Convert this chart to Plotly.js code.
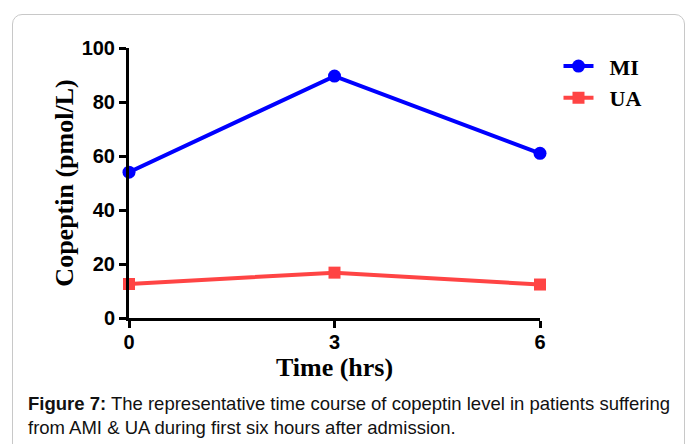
<!DOCTYPE html>
<html>
<head>
<meta charset="utf-8">
<script src="https://cdn.plot.ly/plotly-3.0.1.min.js"></script>
<style>
html,body{margin:0;padding:0;background:#fff;}
#frame{position:absolute;left:12px;top:14px;width:673px;height:460px;border:1.5px solid #c8c8c8;border-radius:10px;box-sizing:border-box;}
#chart{position:absolute;left:0;top:0;width:689px;height:444px;}
</style>
</head>
<body>
<div id="frame"></div>
<div id="chart"></div>
<script>
const timeHrs = [0, 3, 6];
const miValues = [54, 89.6, 61];
const uaValues = [12.6, 16.8, 12.4];
const yTicks = [0, 20, 40, 60, 80, 100];
const xTicks = [0, 3, 6];

const traces = [
  {x: timeHrs, y: miValues, name: '\u00a0\u00a0<b>MI</b>', type: 'scatter', mode: 'lines+markers',
   line: {color: '#0000ff', width: 4}, marker: {symbol: 'circle', size: 13, color: '#0000ff'}, cliponaxis: false},
  {x: timeHrs, y: uaValues, name: '\u00a0\u00a0<b>UA</b>', type: 'scatter', mode: 'lines+markers',
   line: {color: '#ff4444', width: 4}, marker: {symbol: 'square', size: 12, color: '#ff4444'}, cliponaxis: false}
];

const tickFont = {family: 'Liberation Sans, Arial, sans-serif', size: 20, color: '#000'};
const titleFont = {family: 'Liberation Serif, Times New Roman, serif', size: 26, color: '#000'};

const layout = {
  width: 689, height: 444,
  margin: {l: 129, r: 149, t: 48, b: 126},
  paper_bgcolor: 'rgba(0,0,0,0)', plot_bgcolor: 'rgba(0,0,0,0)',
  showlegend: true,
  legend: {x: 1.045, xanchor: 'left', y: 1.01, yanchor: 'top',
    font: {family: 'Liberation Serif, Times New Roman, serif', size: 22, color: '#000'},
    bgcolor: 'rgba(0,0,0,0)', itemwidth: 30, tracegroupgap: 4},
  xaxis: {range: [0, 6], tickvals: xTicks, ticktext: xTicks.map(v => '<b>' + v + '</b>'),
    showgrid: false, zeroline: false, showline: true, linecolor: '#000', linewidth: 3,
    ticks: 'outside', ticklen: 7, tickwidth: 3, tickcolor: '#000', ticklabelstandoff: -3,
    tickfont: tickFont,
    title: {text: '<b>Time (hrs)</b>', standoff: 0, font: titleFont}},
  yaxis: {range: [0, 100], tickvals: yTicks, ticktext: yTicks.map(v => '<b>' + v + '</b>'),
    showgrid: false, zeroline: false, showline: true, linecolor: '#000', linewidth: 3,
    ticks: 'outside', ticklen: 7, tickwidth: 3, tickcolor: '#000',
    tickfont: tickFont,
    title: {text: '<b>Copeptin (pmol/L)</b>', standoff: 1, font: titleFont}},
  annotations: [
    {xref: 'paper', yref: 'paper', x: -0.25, y: -0.27, xanchor: 'left', yanchor: 'top', align: 'left',
     showarrow: false,
     text: '<b>Figure 7:</b> The representative time course of copeptin level in patients suffering<br>from AMI &amp; UA during first six hours after admission.',
     font: {family: 'Liberation Sans, Arial, sans-serif', size: 18.5, color: '#111'}}
  ]
};

Plotly.newPlot('chart', traces, layout, {displayModeBar: false, staticPlot: true});
</script>
</body>
</html>
